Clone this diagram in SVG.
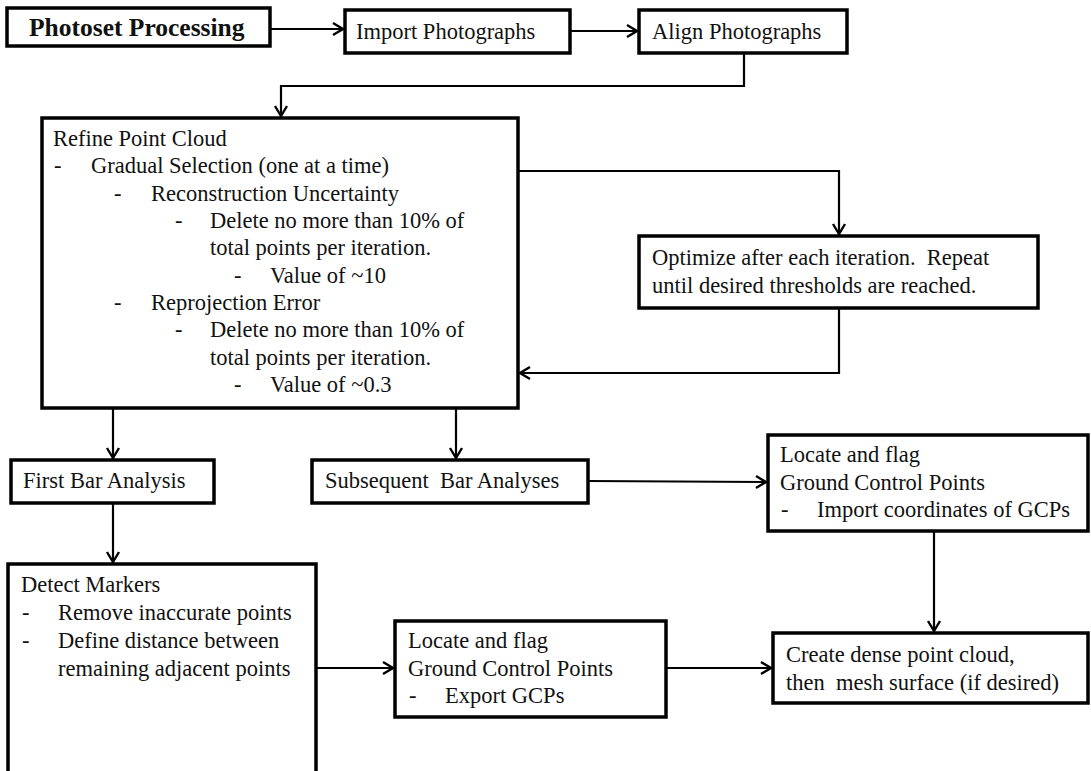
<svg xmlns="http://www.w3.org/2000/svg" width="1091" height="771" viewBox="0 0 1091 771">
<style>
  .box { fill: #ffffff; stroke: #000000; stroke-width: 3.5; }
  .t { font-family: 'Liberation Serif', Tinos, 'Times New Roman', 'DejaVu Serif', serif; font-size: 22.5px; fill: #111111; white-space: pre; }
  .title { font-family: 'Liberation Serif', Tinos, 'Times New Roman', 'DejaVu Serif', serif; font-size: 25.5px; font-weight: bold; fill: #111111; }
  .c { fill: none; stroke: #000000; stroke-width: 2.2; }
  .a { marker-end: url(#arr); }
</style>
<defs>
  <marker id="arr" markerUnits="userSpaceOnUse" markerWidth="14" markerHeight="16" viewBox="-12 -8 14 16" refX="0" refY="0" orient="auto">
    <path d="M-10,-6 L0,0 L-10,6" fill="none" stroke="#000000" stroke-width="2.4"/>
  </marker>
</defs>
<rect width="1091" height="771" fill="#ffffff"/>

<g id="connectors">
  <path class="c a" d="M270,29 L343,29"/>
  <path class="c a" d="M570,31 L637,31"/>
  <path class="c a" d="M744,53 L744,86 L281,86 L281,116"/>
  <path class="c a" d="M518,171 L839,171 L839,234"/>
  <path class="c a" d="M839,308 L839,373 L520,373"/>
  <path class="c a" d="M113,408 L113,458"/>
  <path class="c a" d="M456,408 L456,458"/>
  <path class="c a" d="M113,503 L113,562"/>
  <path class="c a" d="M588,481 L766,482"/>
  <path class="c a" d="M934,531 L934,631"/>
  <path class="c a" d="M316,668 L393,668"/>
  <path class="c a" d="M666,668 L771,668"/>
</g>

<g id="photoset">
  <rect class="box" x="7" y="8" width="263" height="38" stroke-width="4"/>
  <text class="title" x="29" y="36" font-family="Liberation Serif, serif">Photoset Processing</text>
</g>
<g id="import">
  <rect class="box" x="345" y="10" width="225" height="43"/>
  <text class="t" x="356" y="39">Import Photographs</text>
</g>
<g id="align">
  <rect class="box" x="639" y="10" width="208" height="43"/>
  <text class="t" x="652" y="39">Align Photographs</text>
</g>
<g id="refine">
  <rect class="box" x="42" y="118" width="476" height="290"/>
  <text class="t" x="53" y="146">Refine Point Cloud</text>
  <text class="t" x="54" y="173">-</text><text class="t" x="91" y="173">Gradual Selection (one at a time)</text>
  <text class="t" x="114" y="201">-</text><text class="t" x="151" y="201">Reconstruction Uncertainty</text>
  <text class="t" x="175" y="228">-</text><text class="t" x="210" y="228">Delete no more than 10% of</text>
  <text class="t" x="210" y="255">total points per iteration.</text>
  <text class="t" x="234" y="283">-</text><text class="t" x="270" y="283">Value of ~10</text>
  <text class="t" x="114" y="310">-</text><text class="t" x="151" y="310">Reprojection Error</text>
  <text class="t" x="175" y="337">-</text><text class="t" x="210" y="337">Delete no more than 10% of</text>
  <text class="t" x="210" y="365">total points per iteration.</text>
  <text class="t" x="234" y="392">-</text><text class="t" x="270" y="392">Value of ~0.3</text>
</g>
<g id="optimize">
  <rect class="box" x="639" y="236" width="399" height="72"/>
  <text class="t" x="652" y="265">Optimize after each iteration.  Repeat</text>
  <text class="t" x="652" y="293">until desired thresholds are reached.</text>
</g>
<g id="first-bar">
  <rect class="box" x="11" y="460" width="203" height="43"/>
  <text class="t" x="23" y="488">First Bar Analysis</text>
</g>
<g id="subsequent">
  <rect class="box" x="312" y="460" width="276" height="43"/>
  <text class="t" x="325" y="488">Subsequent  Bar Analyses</text>
</g>
<g id="locate-import">
  <rect class="box" x="768" y="435" width="320" height="96"/>
  <text class="t" x="780" y="462">Locate and flag</text>
  <text class="t" x="780" y="490">Ground Control Points</text>
  <text class="t" x="781" y="517">-</text><text class="t" x="817" y="517">Import coordinates of GCPs</text>
</g>
<g id="detect">
  <rect class="box" x="8" y="564" width="308" height="212"/>
  <text class="t" x="21" y="592">Detect Markers</text>
  <text class="t" x="22" y="620">-</text><text class="t" x="58" y="620">Remove inaccurate points</text>
  <text class="t" x="22" y="648">-</text><text class="t" x="58" y="648">Define distance between</text>
  <text class="t" x="58" y="676">remaining adjacent points</text>
</g>
<g id="locate-export">
  <rect class="box" x="395" y="621" width="271" height="96"/>
  <text class="t" x="408" y="648">Locate and flag</text>
  <text class="t" x="408" y="676">Ground Control Points</text>
  <text class="t" x="409" y="703">-</text><text class="t" x="445" y="703">Export GCPs</text>
</g>
<g id="create">
  <rect class="box" x="773" y="633" width="315" height="70"/>
  <text class="t" x="786" y="662">Create dense point cloud,</text>
  <text class="t" x="786" y="690">then  mesh surface (if desired)</text>
</g>
</svg>
